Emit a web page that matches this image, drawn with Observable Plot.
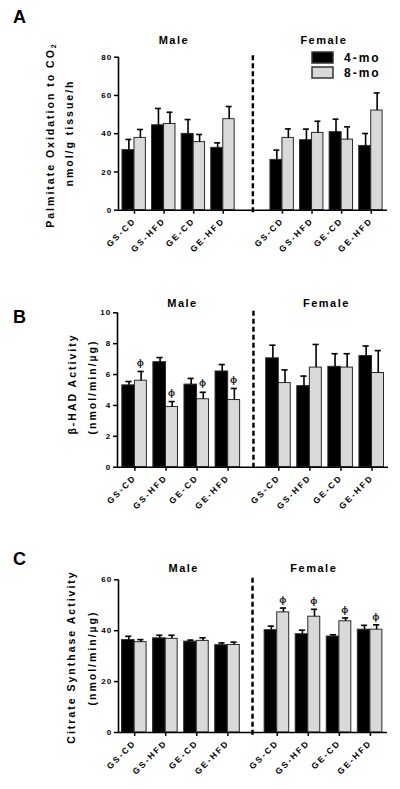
<!DOCTYPE html>
<html><head><meta charset="utf-8">
<script src="https://cdn.jsdelivr.net/npm/d3@7"></script>
<script src="https://cdn.jsdelivr.net/npm/@observablehq/plot@0.6"></script>
<style>
body{margin:0;background:#fff;font-family:"Liberation Sans",Arial,sans-serif;}
#fig{position:relative;width:400px;height:789px;overflow:hidden;background:#fff}
.panel{position:absolute;left:0;width:400px}
.panel text{letter-spacing:1.5px}
.panel g[aria-label="x-axis tick label"] text{letter-spacing:2px}
.panel g[aria-label="y-axis tick label"] text{letter-spacing:1.2px}
.panel g[aria-label="heading"] text{letter-spacing:2px}
.panel g[aria-label="phi"] text{letter-spacing:0}
.letter{position:absolute;left:13px;font-weight:bold;font-size:18px;line-height:18px;color:#000}
.yt{position:absolute;white-space:nowrap;font-weight:bold;font-size:10.5px;line-height:12px;letter-spacing:2px;color:#000;transform:translate(-50%,-50%) rotate(-90deg)}
.yt sub{font-size:7px;vertical-align:-2px;line-height:0}
#legend{position:absolute;left:312px;top:50.5px}
#legend, #legend *{font-family:"Liberation Sans",Arial,sans-serif !important;font-weight:bold !important;font-size:12px !important;letter-spacing:2px;color:#000}
#legend svg{margin-right:11px !important}
#legend svg rect{stroke:#333;stroke-width:1.5px}
</style>
</head><body>
<div id="fig"></div>
<script>
// ---------- data ----------
const groups = ["GS-CD", "GS-HFD", "GE-CD", "GE-HFD"];
const sexes = ["Male", "Female"];
const ages = ["4-mo", "8-mo"];
const ageColors = ["#000000", "#d9d9d9"];

// Panel A: Palmitate oxidation to CO2 (nmol/g tissue/h)
const palmMale4 = [31.4, 44.4, 39.9, 32.6];
const palmMale4Sem = [5.6, 8.8, 7.5, 2.6];
const palmMale8 = [37.8, 45.1, 35.6, 47.6];
const palmMale8Sem = [4.4, 6.1, 4.0, 6.6];
const palmFemale4 = [26.3, 36.6, 40.8, 33.6];
const palmFemale4Sem = [5.1, 5.8, 6.8, 6.5];
const palmFemale8 = [37.8, 40.4, 36.9, 52.1];
const palmFemale8Sem = [4.7, 6.1, 6.7, 9.2];
const palmTicks = [0, 20, 40, 60, 80];

// Panel B: beta-HAD activity (nmol/min/µg)
const hadMale4 = [5.3, 6.8, 5.35, 6.2];
const hadMale4Sem = [0.25, 0.3, 0.4, 0.45];
const hadMale8 = [5.6, 3.9, 4.4, 4.35];
const hadMale8Sem = [0.6, 0.35, 0.45, 0.75];
const hadFemale4 = [7.05, 5.25, 6.5, 7.2];
const hadFemale4Sem = [0.85, 0.65, 0.85, 0.65];
const hadFemale8 = [5.45, 6.45, 6.45, 6.1];
const hadFemale8Sem = [0.85, 1.5, 0.9, 1.45];
const hadPhiMale8 = [true, true, true, true];
const hadTicks = [0, 2, 4, 6, 8, 10];

// Panel C: Citrate synthase activity (nmol/min/µg)
const csMale4 = [36.3, 37.0, 35.7, 34.3];
const csMale4Sem = [1.5, 1.2, 0.6, 0.9];
const csMale8 = [35.5, 36.8, 36.0, 34.4];
const csMale8Sem = [1.0, 1.4, 1.2, 1.1];
const csFemale4 = [40.2, 38.6, 37.7, 40.4];
const csFemale4Sem = [1.6, 1.6, 0.7, 1.7];
const csFemale8 = [47.2, 45.5, 43.7, 40.4];
const csFemale8Sem = [1.7, 2.9, 1.3, 1.9];
const csPhiFemale8 = [true, true, true, true];
const csTicks = [0, 20, 40, 60];

// ---------- build ----------
function buildRows(series, femaleStart) {
  const rows = [];
  sexes.forEach((sex, si) => {
    ages.forEach(age => {
      const s = series[sex + age];
      groups.forEach((g, gi) => {
        const pos = gi + (si ? femaleStart : 0);
        const is4 = age === ages[0];
        rows.push({
          sex, age, group: g, pos,
          value: s.v[gi], sem: s.e[gi], phi: s.p ? s.p[gi] : false,
          x1: is4 ? pos - 0.405 : pos,
          x2: is4 ? pos : pos + 0.385,
          c: is4 ? pos - 0.19 : pos + 0.2
        });
      });
    });
  });
  return rows;
}

const FONT = "'Liberation Sans', Arial, sans-serif";

function makePanel(cfg) {
  const fs = cfg.femaleStart;
  const rows = buildRows(cfg.series, fs);
  const tickPos = [0, 1, 2, 3, fs, fs + 1, fs + 2, fs + 3];
  const labelAt = new Map(tickPos.map((p, i) => [p, groups[i % 4]]));
  const yMax = cfg.yTicks[cfg.yTicks.length - 1];
  return Plot.plot({
    width: 400,
    height: cfg.height,
    marginTop: cfg.mt,
    marginBottom: cfg.mb,
    marginLeft: cfg.ml,
    marginRight: cfg.mr,
    style: {fontFamily: FONT, fontWeight: "bold", background: "transparent", overflow: "visible", color: "#000"},
    x: {type: "linear", domain: cfg.xDomain},
    y: {domain: [0, yMax]},
    color: {type: "ordinal", domain: ages, range: ageColors},
    marks: [
      Plot.rect(rows, {x1: "x1", x2: "x2", y1: 0, y2: "value", fill: "age", stroke: "#2a2a2a", strokeWidth: 1}),
      Plot.ruleX(rows, {x: "c", y1: "value", y2: d => d.value + d.sem, stroke: "#000", strokeWidth: 1.6}),
      Plot.ruleY(rows, {y: d => d.value + d.sem, x1: d => d.c - 0.1, x2: d => d.c + 0.1, stroke: "#000", strokeWidth: 1.6}),
      Plot.text(rows.filter(d => d.phi), {x: "c", y: d => d.value + d.sem, text: () => "ϕ", lineAnchor: "middle", dy: cfg.phiDy, fontSize: 9.5, fontWeight: "bold", fill: "#222", ariaLabel: "phi"}),
      Plot.ruleX([(3 + fs) / 2], {stroke: "#000", strokeWidth: 2.5, strokeDasharray: "5,3", insetTop: -1.5, insetBottom: -4}),
      Plot.ruleY([0], {stroke: "#000", strokeWidth: 1.6}),
      Plot.ruleX([cfg.xDomain[0]], {stroke: "#000", strokeWidth: 1.6}),
      Plot.axisY({ticks: cfg.yTicks, tickSize: 4, tickPadding: 2, fontSize: 8, fontWeight: "bold", label: null, strokeWidth: 1.5}),
      Plot.axisX({ticks: tickPos, tickFormat: d => labelAt.get(d), tickRotate: -45, tickSize: 4, tickPadding: 5, fontSize: 8.5, fontWeight: "bold", label: null, strokeWidth: 1.5}),
      Plot.text([sexes[0]], {x: () => 1.5, frameAnchor: "top", dy: cfg.headDy, dx: cfg.headDx[0], text: d => d, fontSize: 11, fontWeight: "bold", ariaLabel: "heading"}),
      Plot.text([sexes[1]], {x: () => fs + 1.5, frameAnchor: "top", dy: cfg.headDy, dx: cfg.headDx[1], text: d => d, fontSize: 11, fontWeight: "bold", ariaLabel: "heading"})
    ]
  });
}

const panels = [
  {top: 0, height: 263, mt: 56.7, mb: 53.3, ml: 118, mr: 13, xDomain: [-0.54, 8.55], femaleStart: 5,
   yTicks: palmTicks, headDy: -21, headDx: [-5, -3], phiDy: -9,
   series: {"Male4-mo": {v: palmMale4, e: palmMale4Sem}, "Male8-mo": {v: palmMale8, e: palmMale8Sem},
            "Female4-mo": {v: palmFemale4, e: palmFemale4Sem}, "Female8-mo": {v: palmFemale8, e: palmFemale8Sem}}},
  {top: 263, height: 263, mt: 49.3, mb: 59.3, ml: 117, mr: 12, xDomain: [-0.56, 8.16], femaleStart: 4.63,
   yTicks: hadTicks, headDy: -14, headDx: [1, 1], phiDy: -9,
   series: {"Male4-mo": {v: hadMale4, e: hadMale4Sem}, "Male8-mo": {v: hadMale8, e: hadMale8Sem, p: hadPhiMale8},
            "Female4-mo": {v: hadFemale4, e: hadFemale4Sem}, "Female8-mo": {v: hadFemale8, e: hadFemale8Sem}}},
  {top: 526, height: 263, mt: 53.3, mb: 57, ml: 118, mr: 13, xDomain: [-0.52, 8.14], femaleStart: 4.59,
   yTicks: csTicks, headDy: -15.5, headDx: [2.5, -10], phiDy: -8,
   series: {"Male4-mo": {v: csMale4, e: csMale4Sem}, "Male8-mo": {v: csMale8, e: csMale8Sem},
            "Female4-mo": {v: csFemale4, e: csFemale4Sem}, "Female8-mo": {v: csFemale8, e: csFemale8Sem, p: csPhiFemale8}}}
];

const fig = document.getElementById("fig");
panels.forEach(cfg => {
  const div = document.createElement("div");
  div.className = "panel";
  div.style.top = cfg.top + "px";
  div.style.height = cfg.height + "px";
  div.appendChild(makePanel(cfg));
  fig.appendChild(div);
});

// Panel letters and y-axis titles
const overlays = [
  ["letter", "A", 13, 7.7],
  ["letter", "B", 13, 308],
  ["letter", "C", 13, 550],
  ["yt", "Palmitate Oxidation to CO<sub>2</sub>", 50, 134.5],
  ["yt", "nmol/g tissue/h", 69, 132.5],
  ["yt", "β-HAD Activity", 72, 384],
  ["yt", "(nmol/min/µg)", 91.5, 386.7],
  ["yt", "Citrate Synthase Activity", 71, 657],
  ["yt", "(nmol/min/µg)", 92, 657.6]
];
overlays.forEach(([cls, html, x, y]) => {
  const el = document.createElement("div");
  el.className = cls;
  el.innerHTML = html;
  el.style.left = x + "px";
  el.style.top = y + "px";
  fig.appendChild(el);
});

// Legend
const leg = Plot.legend({color: {type: "ordinal", domain: ages, range: ageColors}, legend: "swatches", columns: 1, swatchWidth: 21, swatchHeight: 11});
const legWrap = document.createElement("div");
legWrap.id = "legend";
legWrap.appendChild(leg);
fig.appendChild(legWrap);
</script>
</body></html>
